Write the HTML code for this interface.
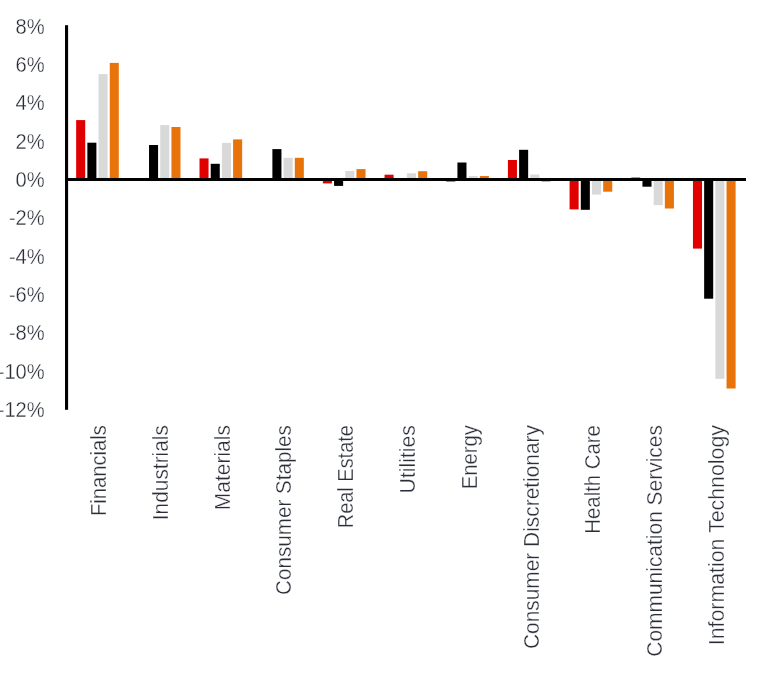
<!DOCTYPE html>
<html><head><meta charset="utf-8"><title>Sector chart</title>
<style>
html,body{margin:0;padding:0;background:#fff;}
body{width:757px;height:675px;overflow:hidden;}
svg{display:block;will-change:transform;}
text{font-family:"Liberation Sans",sans-serif;font-size:20px;fill:#2a2e38;stroke:#fff;stroke-width:0.32px;paint-order:fill stroke;}
text.yl{font-size:22.2px;}
text.xl{font-size:21.3px;}
</style></head>
<body>
<svg width="757" height="675" viewBox="0 0 757 675">
<rect x="0" y="0" width="757" height="675" fill="#ffffff"/>
<rect x="76.15" y="120.10" width="9.05" height="58.90" fill="#e00000"/>
<rect x="87.35" y="142.70" width="9.05" height="36.30" fill="#000000"/>
<rect x="98.55" y="74.10" width="9.05" height="104.90" fill="#d9d9d9"/>
<rect x="109.75" y="62.90" width="9.05" height="116.10" fill="#e8730a"/>
<rect x="149.03" y="145.00" width="9.05" height="34.00" fill="#000000"/>
<rect x="160.23" y="125.10" width="9.05" height="53.90" fill="#d9d9d9"/>
<rect x="171.43" y="127.00" width="9.05" height="52.00" fill="#e8730a"/>
<rect x="199.51" y="158.40" width="9.05" height="20.60" fill="#e00000"/>
<rect x="210.71" y="163.80" width="9.05" height="15.20" fill="#000000"/>
<rect x="221.91" y="142.90" width="9.05" height="36.10" fill="#d9d9d9"/>
<rect x="233.11" y="139.40" width="9.05" height="39.60" fill="#e8730a"/>
<rect x="272.39" y="149.10" width="9.05" height="29.90" fill="#000000"/>
<rect x="283.59" y="157.80" width="9.05" height="21.20" fill="#d9d9d9"/>
<rect x="294.79" y="157.80" width="9.05" height="21.20" fill="#e8730a"/>
<rect x="322.87" y="180.00" width="9.05" height="3.40" fill="#e00000"/>
<rect x="334.07" y="180.00" width="9.05" height="5.90" fill="#000000"/>
<rect x="345.27" y="171.00" width="9.05" height="8.00" fill="#d9d9d9"/>
<rect x="356.47" y="169.10" width="9.05" height="9.90" fill="#e8730a"/>
<rect x="384.55" y="174.70" width="9.05" height="4.30" fill="#e00000"/>
<rect x="406.95" y="173.30" width="9.05" height="5.70" fill="#d9d9d9"/>
<rect x="418.15" y="171.20" width="9.05" height="7.80" fill="#e8730a"/>
<rect x="446.23" y="180.00" width="9.05" height="1.60" fill="#e00000"/>
<rect x="457.43" y="162.50" width="9.05" height="16.50" fill="#000000"/>
<rect x="468.63" y="176.00" width="9.05" height="3.00" fill="#d9d9d9"/>
<rect x="479.83" y="176.00" width="9.05" height="3.00" fill="#e8730a"/>
<rect x="507.91" y="160.00" width="9.05" height="19.00" fill="#e00000"/>
<rect x="519.11" y="149.80" width="9.05" height="29.20" fill="#000000"/>
<rect x="530.31" y="174.50" width="9.05" height="4.50" fill="#d9d9d9"/>
<rect x="541.51" y="180.00" width="9.05" height="1.60" fill="#e8730a"/>
<rect x="569.59" y="180.00" width="9.05" height="29.40" fill="#e00000"/>
<rect x="580.79" y="180.00" width="9.05" height="29.80" fill="#000000"/>
<rect x="591.99" y="180.00" width="9.05" height="14.60" fill="#d9d9d9"/>
<rect x="603.19" y="180.00" width="9.05" height="11.70" fill="#e8730a"/>
<rect x="631.27" y="177.50" width="9.05" height="1.50" fill="#e00000"/>
<rect x="642.47" y="180.00" width="9.05" height="6.70" fill="#000000"/>
<rect x="653.67" y="180.00" width="9.05" height="25.20" fill="#d9d9d9"/>
<rect x="664.87" y="180.00" width="9.05" height="28.50" fill="#e8730a"/>
<rect x="692.95" y="180.00" width="9.05" height="68.60" fill="#e00000"/>
<rect x="704.15" y="180.00" width="9.05" height="118.70" fill="#000000"/>
<rect x="715.35" y="180.00" width="9.05" height="198.80" fill="#d9d9d9"/>
<rect x="726.55" y="180.00" width="9.05" height="208.50" fill="#e8730a"/>
<rect x="65" y="25.2" width="3.1" height="384.6" fill="#000"/>
<rect x="65" y="178.0" width="681" height="3.0" fill="#000"/>
<text class="yl" transform="translate(44.70,33.60) scale(0.907,1)" text-anchor="end">8%</text>
<text class="yl" transform="translate(44.70,71.94) scale(0.907,1)" text-anchor="end">6%</text>
<text class="yl" transform="translate(44.70,110.28) scale(0.907,1)" text-anchor="end">4%</text>
<text class="yl" transform="translate(44.70,148.62) scale(0.907,1)" text-anchor="end">2%</text>
<text class="yl" transform="translate(44.70,186.96) scale(0.907,1)" text-anchor="end">0%</text>
<text class="yl" transform="translate(44.70,225.30) scale(0.907,1)" text-anchor="end">-2%</text>
<text class="yl" transform="translate(44.70,263.64) scale(0.907,1)" text-anchor="end">-4%</text>
<text class="yl" transform="translate(44.70,301.98) scale(0.907,1)" text-anchor="end">-6%</text>
<text class="yl" transform="translate(44.70,340.32) scale(0.907,1)" text-anchor="end">-8%</text>
<text class="yl" transform="translate(44.70,378.66) scale(0.907,1)" text-anchor="end">-10%</text>
<text class="yl" transform="translate(44.70,417.00) scale(0.907,1)" text-anchor="end">-12%</text>
<text class="xl" transform="translate(106.00,425.10) rotate(-90)" text-anchor="end" textLength="90.9" lengthAdjust="spacingAndGlyphs">Financials</text>
<text class="xl" transform="translate(167.90,425.10) rotate(-90)" text-anchor="end" textLength="95.1" lengthAdjust="spacingAndGlyphs">Industrials</text>
<text class="xl" transform="translate(229.70,425.10) rotate(-90)" text-anchor="end" textLength="85.2" lengthAdjust="spacingAndGlyphs">Materials</text>
<text class="xl" transform="translate(291.20,425.10) rotate(-90)" text-anchor="end" textLength="169.9" lengthAdjust="spacingAndGlyphs">Consumer Staples</text>
<text class="xl" transform="translate(353.20,425.10) rotate(-90)" text-anchor="end" textLength="103.2" lengthAdjust="spacingAndGlyphs">Real Estate</text>
<text class="xl" transform="translate(415.30,425.10) rotate(-90)" text-anchor="end" textLength="68.3" lengthAdjust="spacingAndGlyphs">Utilities</text>
<text class="xl" transform="translate(476.50,425.10) rotate(-90)" text-anchor="end" textLength="64.1" lengthAdjust="spacingAndGlyphs">Energy</text>
<text class="xl" transform="translate(538.50,425.10) rotate(-90)" text-anchor="end" textLength="223.9" lengthAdjust="spacingAndGlyphs">Consumer Discretionary</text>
<text class="xl" transform="translate(600.40,425.10) rotate(-90)" text-anchor="end" textLength="108.6" lengthAdjust="spacingAndGlyphs">Health Care</text>
<text class="xl" transform="translate(662.00,425.10) rotate(-90)" text-anchor="end" textLength="231.6" lengthAdjust="spacingAndGlyphs">Communication Services</text>
<text class="xl" transform="translate(724.00,425.10) rotate(-90)" text-anchor="end" textLength="220.2" lengthAdjust="spacingAndGlyphs">Information Technology</text>
</svg>
</body></html>
